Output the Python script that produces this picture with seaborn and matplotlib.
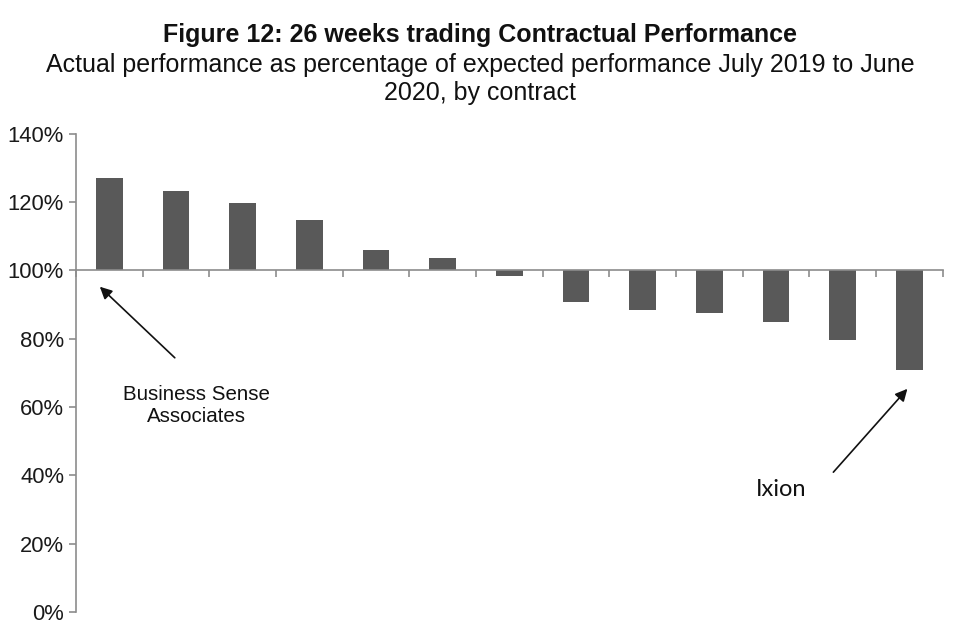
import numpy as np
import pandas as pd
import matplotlib
matplotlib.use("Agg")
import matplotlib.pyplot as plt
import seaborn as sns
from matplotlib.ticker import PercentFormatter

contracts = ["Business Sense Associates", "Contract 2", "Contract 3", "Contract 4",
             "Contract 5", "Contract 6", "Contract 7", "Contract 8", "Contract 9",
             "Contract 10", "Contract 11", "Contract 12", "Ixion"]
performance = [1.270, 1.232, 1.196, 1.147, 1.059, 1.036, 0.983, 0.907, 0.883,
               0.875, 0.849, 0.796, 0.709]
baseline = 1.0
y_ticks = [0.0, 0.2, 0.4, 0.6, 0.8, 1.0, 1.2, 1.4]

sns.set_theme(style="white")
plt.rcParams["font.family"] = ["Liberation Sans", "DejaVu Sans"]

df = pd.DataFrame({"contract": contracts,
                   "deviation": [p - baseline for p in performance]})

fig = plt.figure(figsize=(9.6, 6.4), dpi=100)
ax = fig.add_axes([0.079, 0.044, 0.903, 0.747])

sns.barplot(data=df, x="contract", y="deviation", color="#595959",
            saturation=1, width=0.4, bottom=baseline, ax=ax)
for p in ax.patches:
    p.set_edgecolor("none")

ax.set_ylim(0, 1.4)
ax.set_xlim(-0.5, len(contracts) - 0.5)
ax.set_yticks(y_ticks)
ax.yaxis.set_major_formatter(PercentFormatter(1.0, decimals=0))
ax.set_xticks(np.arange(-0.5, len(contracts), 1.0))
ax.set_xticklabels([])
ax.set_xlabel("")
ax.set_ylabel("")

for s in ["top", "right"]:
    ax.spines[s].set_visible(False)
ax.spines["bottom"].set_position(("data", baseline))
for s in ["left", "bottom"]:
    ax.spines[s].set_color("#8c8c8c")
    ax.spines[s].set_linewidth(1.2)
ax.tick_params(axis="y", direction="out", length=5, width=1.2, color="#8c8c8c",
               labelsize=15.8, labelcolor="#1a1a1a", pad=3.5, left=True)
ax.tick_params(axis="x", direction="out", length=5, width=1.2, color="#8c8c8c",
               bottom=True)

fig.text(0.5, 0.946, "Figure 12: 26 weeks trading Contractual Performance",
         ha="center", va="center", fontsize=18, fontweight="bold", color="#111111")
fig.text(0.5, 0.876, "Actual performance as percentage of expected performance July 2019 to June\n2020, by contract",
         ha="center", va="center", fontsize=18, color="#111111", linespacing=1.2)

ax.annotate("", xy=(-0.14, 0.952), xytext=(0.984, 0.744),
            arrowprops=dict(arrowstyle="-|>", color="#111111", lw=1.2,
                            mutation_scale=18, shrinkA=0, shrinkB=0))
ax.text(1.31, 0.604, "Business Sense\nAssociates", ha="center", va="center",
        fontsize=14.8, color="#111111", linespacing=1.25)

ax.annotate("", xy=(11.97, 0.653), xytext=(10.86, 0.409),
            arrowprops=dict(arrowstyle="-|>", color="#111111", lw=1.2,
                            mutation_scale=18, shrinkA=0, shrinkB=0))
ax.text(10.07, 0.357, "Ixion", ha="center", va="center",
        fontsize=17, color="#111111", family=["Lato", "DejaVu Sans"])

fig.savefig("out.png", dpi=100, facecolor="white")
